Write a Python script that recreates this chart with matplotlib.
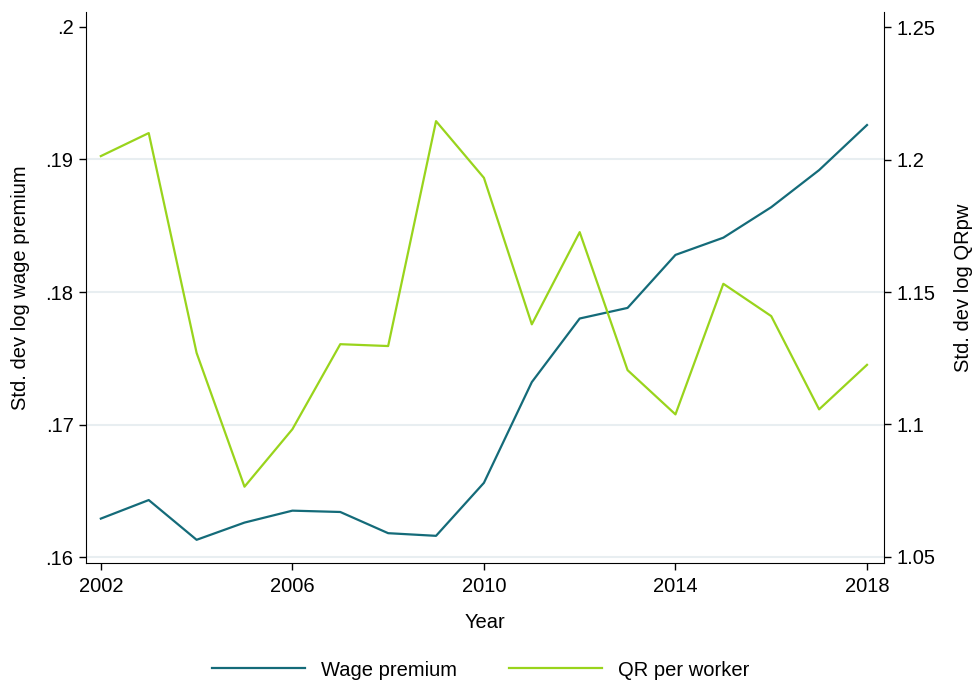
import matplotlib
matplotlib.use("Agg")
import matplotlib.pyplot as plt

years = list(range(2002, 2019))
wage_premium = [.1629, .1643, .1613, .1626, .1635, .1634, .1618, .1616, .1656,
                .1732, .1780, .1788, .1828, .1841, .1864, .1892, .1926]
qr_per_worker = [1.2013, 1.2100, 1.1270, 1.0765, 1.0982, 1.1303, 1.1296, 1.2145, 1.1931,
                 1.1378, 1.1726, 1.1205, 1.1038, 1.1531, 1.1409, 1.1057, 1.1225]

left_ticks = [.16, .17, .18, .19, .20]
left_labels = [".16", ".17", ".18", ".19", ".2"]
right_ticks = [1.05, 1.10, 1.15, 1.20, 1.25]
right_labels = ["1.05", "1.1", "1.15", "1.2", "1.25"]
x_ticks = [2002, 2006, 2010, 2014, 2018]

plt.rcParams["font.family"] = ["Liberation Sans", "DejaVu Sans"]
fs = 14.5

teal = "#146b79"
lime = "#99d41c"
grid_col = "#e8eef1"

fig = plt.figure(figsize=(9.72, 6.83), dpi=100)
ax = fig.add_axes([86/972, 1 - 563/683, (884 - 86)/972, (563 - 12)/683])
ax2 = ax.twinx()

for t in left_ticks[:-1]:
    ax.axhline(t, color=grid_col, lw=1.5, zorder=0)

l1, = ax.plot(years, wage_premium, color=teal, lw=1.6, label="Wage premium")
l2, = ax2.plot(years, qr_per_worker, color=lime, lw=1.6, label="QR per worker")

ax.set_xlim(2001.69, 2018.355)
ax.set_ylim(0.15955, 0.20113)
ax2.set_ylim(1.0477, 1.2557)

ax.set_yticks(left_ticks)
ax.set_yticklabels(left_labels)
ax2.set_yticks(right_ticks)
ax2.set_yticklabels(right_labels)
ax.set_xticks(x_ticks)

for a in (ax, ax2):
    a.spines["top"].set_visible(False)
    a.tick_params(labelsize=fs, length=5, width=1, direction="out", pad=4)
ax.tick_params(axis="x", pad=5)
ax.spines["right"].set_visible(False)
ax2.spines["left"].set_visible(False)
ax2.spines["bottom"].set_visible(False)

ax.set_xlabel("Year", fontsize=fs, labelpad=12)
ax.set_ylabel("Std. dev log wage premium", fontsize=fs, labelpad=11)
ax2.set_ylabel("Std. dev log QRpw", fontsize=fs, labelpad=13)

fig.legend(handles=[l1, l2], loc="center", bbox_to_anchor=(481/972, 1 - 670/683),
           ncol=2, frameon=False, fontsize=fs, handlelength=4.6, columnspacing=2.6,
           handletextpad=0.8)

fig.savefig("out.png", dpi=100)
